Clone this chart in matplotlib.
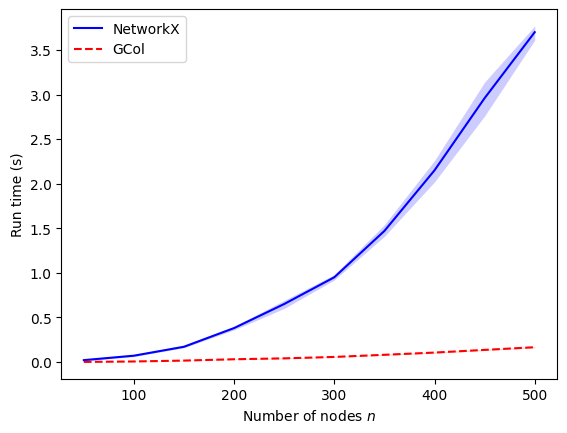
import matplotlib
matplotlib.use("Agg")
import matplotlib.pyplot as plt

# number of nodes
n = [50, 100, 150, 200, 250, 300, 350, 400, 450, 500]

# NetworkX run times (mean, lower, upper)
nx_mean = [0.02, 0.07, 0.17, 0.38, 0.65, 0.95, 1.47, 2.15, 2.96, 3.70]
nx_lo = [0.01, 0.06, 0.16, 0.36, 0.60, 0.92, 1.41, 2.02, 2.76, 3.61]
nx_hi = [0.03, 0.08, 0.19, 0.40, 0.69, 0.98, 1.54, 2.26, 3.14, 3.77]

# GCol run times (mean, lower, upper)
gc_mean = [0.0, 0.005, 0.015, 0.03, 0.04, 0.056, 0.08, 0.105, 0.135, 0.165]
gc_lo = [0.0, 0.003, 0.012, 0.026, 0.036, 0.052, 0.075, 0.098, 0.128, 0.158]
gc_hi = [0.002, 0.008, 0.018, 0.034, 0.045, 0.06, 0.086, 0.112, 0.142, 0.172]

fig, ax = plt.subplots(figsize=(6.4, 4.8))

ax.plot(n, nx_mean, color='blue', label='NetworkX')
ax.fill_between(n, nx_lo, nx_hi, color='blue', alpha=0.2, linewidth=0)
ax.plot(n, gc_mean, color='red', linestyle='--', label='GCol')
ax.fill_between(n, gc_lo, gc_hi, color='red', alpha=0.2, linewidth=0)

ax.set_xlabel('Number of nodes $n$')
ax.set_ylabel('Run time (s)')
ax.legend(loc='upper left')

plt.savefig('out.png', bbox_inches='tight')
